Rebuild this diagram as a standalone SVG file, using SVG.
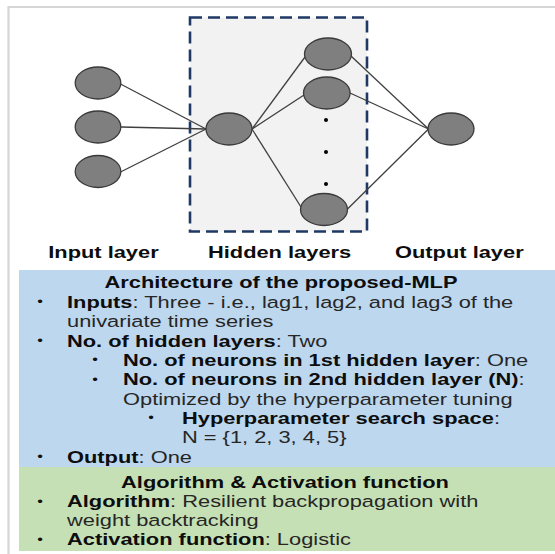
<svg xmlns="http://www.w3.org/2000/svg" width="555" height="554" viewBox="0 0 555 554">
  <style>
    .node { fill: #7f7f7f; stroke: #3a3a3a; stroke-width: 1.3; }
    .edge { stroke: #3f3f3f; stroke-width: 1.3; fill: none; }
    .dot { fill: #000; }
    text { font-family: "Liberation Sans", Arial, sans-serif; font-size: 16.3px; fill: #262626; }
    .b { font-weight: bold; fill: #0d0d0d; }
    .head { font-weight: bold; text-anchor: middle; fill: #0d0d0d; }
    .bul { font-size: 12px; fill: #111; }
  </style>

  <!-- page background and outer frame -->
  <rect x="0" y="0" width="555" height="554" fill="#fff"/>
  <path d="M8.5 554 V7 H555" fill="none" stroke="#d6d6d6" stroke-width="2.2"/>

  <!-- hidden-layer enclosure -->
  <rect id="hidden-box" x="190" y="17.5" width="177" height="214" fill="#f2f2f2" stroke="#1f3864" stroke-width="2.6" stroke-dasharray="12 6"/>

  <!-- connectors -->
  <g id="connectors">
    <line class="edge" x1="120.5" y1="84" x2="206" y2="129"/>
    <line class="edge" x1="121" y1="127" x2="206" y2="129"/>
    <line class="edge" x1="120.5" y1="172" x2="206" y2="129"/>
    <line class="edge" x1="252" y1="129" x2="305" y2="57"/>
    <line class="edge" x1="252" y1="129" x2="304" y2="95"/>
    <line class="edge" x1="252" y1="129" x2="301" y2="207"/>
    <line class="edge" x1="351" y1="56" x2="428.5" y2="129"/>
    <line class="edge" x1="350" y1="93" x2="428.5" y2="129"/>
    <line class="edge" x1="347.5" y1="209" x2="428.5" y2="129"/>
  </g>

  <!-- input layer -->
  <g id="input-1"><ellipse class="node" cx="98" cy="83" rx="22.8" ry="16"/></g>
  <g id="input-2"><ellipse class="node" cx="98" cy="127" rx="22.8" ry="16"/></g>
  <g id="input-3"><ellipse class="node" cx="98" cy="171.5" rx="22.8" ry="16"/></g>

  <!-- first hidden layer -->
  <g id="hidden1-1"><ellipse class="node" cx="229" cy="129" rx="23" ry="16"/></g>

  <!-- second hidden layer -->
  <g id="hidden2-1"><ellipse class="node" cx="328" cy="54" rx="23.5" ry="16"/></g>
  <g id="hidden2-2"><ellipse class="node" cx="326.8" cy="93" rx="23.3" ry="16"/></g>
  <g id="hidden2-n"><ellipse class="node" cx="324" cy="209.5" rx="23.5" ry="16"/></g>
  <g id="ellipsis">
    <ellipse class="dot" cx="326" cy="120" rx="2" ry="2"/>
    <ellipse class="dot" cx="326" cy="152" rx="2" ry="2"/>
    <ellipse class="dot" cx="326" cy="184" rx="2" ry="2"/>
  </g>

  <!-- output layer -->
  <g id="output-1"><ellipse class="node" cx="451" cy="129" rx="23" ry="16"/></g>

  <!-- info panels -->
  <rect id="arch-panel" x="19" y="270" width="536" height="197" fill="#bdd7ee"/>
  <rect id="algo-panel" x="19" y="467" width="536" height="84" fill="#c5e0b4"/>

  <!-- all text is set in a horizontally widened frame -->
  <g transform="scale(1.34 1)">
    <g id="layer-labels">
      <text class="b" x="36" y="258.5">Input layer</text>
      <text class="b" x="155.2" y="258.5">Hidden layers</text>
      <text class="b" x="294.8" y="258.5">Output layer</text>
    </g>

    <g id="arch-text">
      <text class="head" x="209.7" y="288.5">Architecture of the proposed-MLP</text>
      <text class="bul" x="27.8" y="306.5">•</text>
      <text x="50" y="308"><tspan class="b">Inputs</tspan>: Three - i.e., lag1, lag2, and lag3 of the</text>
      <text x="50" y="327.5">univariate time series</text>
      <text class="bul" x="27.8" y="345.5">•</text>
      <text x="50" y="347"><tspan class="b">No. of hidden layers</tspan>: Two</text>
      <text class="bul" x="68.9" y="364.5">•</text>
      <text x="91.8" y="366"><tspan class="b">No. of neurons in 1st hidden layer</tspan>: One</text>
      <text class="bul" x="68.9" y="384">•</text>
      <text x="91.8" y="385.5"><tspan class="b">No. of neurons in 2nd hidden layer (N)</tspan>:</text>
      <text x="91.8" y="405">Optimized by the hyperparameter tuning</text>
      <text class="bul" x="110.6" y="422.5">•</text>
      <text x="135.8" y="424"><tspan class="b">Hyperparameter search space</tspan>:</text>
      <text x="135.8" y="443.5">N = {1, 2, 3, 4, 5}</text>
      <text class="bul" x="27.8" y="461.5">•</text>
      <text x="50" y="463"><tspan class="b">Output</tspan>: One</text>
    </g>

    <g id="algo-text">
      <text class="head" x="212.7" y="488.5">Algorithm &amp; Activation function</text>
      <text class="bul" x="27.8" y="506">•</text>
      <text x="50" y="507.5"><tspan class="b">Algorithm</tspan>: Resilient backpropagation with</text>
      <text x="50" y="526.5">weight backtracking</text>
      <text class="bul" x="27.8" y="544">•</text>
      <text x="50" y="545.5"><tspan class="b">Activation function</tspan>: Logistic</text>
    </g>
  </g>
</svg>
